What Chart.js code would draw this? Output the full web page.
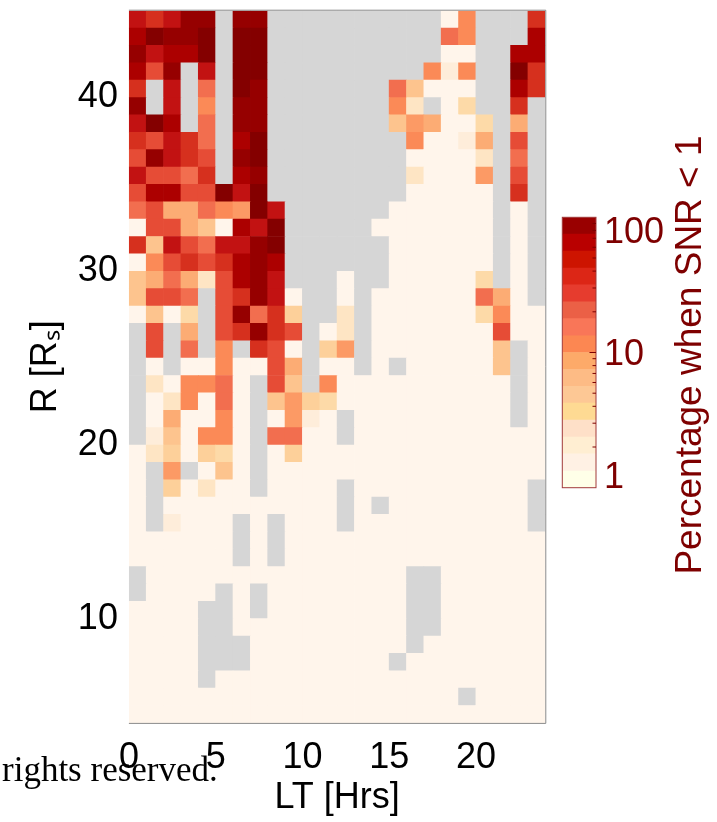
<!DOCTYPE html>
<html>
<head>
<meta charset="utf-8">
<title>Percentage when SNR &lt; 1</title>
<script src="https://cdn.jsdelivr.net/npm/chart.js@4.4.1/dist/chart.umd.min.js"></script>
<style>
  html, body { margin: 0; padding: 0; background: #fff; }
  #wrap { position: relative; width: 717px; height: 822px; overflow: hidden; }
  #wrap canvas { position: absolute; left: 0; top: 0; }
  #credit {
    position: absolute; left: 2px; top: 752px;
    font: 35px/1 "Liberation Serif", "Times New Roman", serif;
    color: #000; white-space: nowrap;
  }
</style>
</head>
<body>
<div id="wrap">
  <canvas id="map" width="717" height="822"></canvas>
  <canvas id="colorbar" width="717" height="822"></canvas>
  <div id="credit">rights reserved.</div>
</div>
<script>
// LT bins (left edge, hours) and R bins (lower edge, R_s, top row first)
const ltBins = [0, 1, 2, 3, 4, 5, 6, 7, 8, 9, 10, 11, 12, 13, 14, 15, 16, 17, 18, 19, 20, 21, 22, 23];
const rBins = [44, 43, 42, 41, 40, 39, 38, 37, 36, 35, 34, 33, 32, 31, 30, 29, 28, 27, 26, 25, 24,
               23, 22, 21, 20, 19, 18, 17, 16, 15, 14, 13, 12, 11, 10, 9, 8, 7, 6, 5, 4];
const xTickValues = [0, 5, 10, 15, 20];
const yTickValues = [10, 20, 30, 40];

// Percentage level per cell: one string per R bin, one character per LT bin.
// '.' no data, '0' below 1 %, '1'..'f' rising percentage (f = highest)
const snrRows = [
  'cbcee.ee..........08...b',
  'dfeef.ff..........98...d',
  'ecddf.ff..........00..dd',
  'dae.c.ff.........818..fb',
  'b.c.9.fe.......95000..db',
  'e.c.8.ee.......82.03..b.',
  'cfd.9.ee.......576003.6.',
  'bacb9.df........80016.a.',
  'aecba.ef........00002.9.',
  'caa9b.de........20007.a.',
  'addaafcf........00000.b.',
  '9a66987fc......000000.0.',
  '0aa650dcf.....0000000.0.',
  'b5ca9ccef......000000.0.',
  '08ababded......000000.0.',
  '56962adec...0..000003.0.',
  '5aa9.abec0..0.000000960.',
  '0503.ae9b4..2.0000003800',
  '.a.6.abeba.02.0000000a00',
  '.a.9.8.ba0.47.00000005.0',
  '.0.00800a6.00.0.000005.0',
  '.208890.a5.80000000000.0',
  '.028090.57430000000000.0',
  '.060080.0710.000000000.0',
  '.150880.9900.00000000000',
  '0240430.0400000000000000',
  '0.7.050.0000000000000000',
  '0.40200.0000.0000000000.',
  '0.0000000000.0.00000000.',
  '0.1000.0.000.0000000000.',
  '000000.0.000000000000000',
  '000000.0.000000000000000',
  '.000000000000000..000000',
  '.0000.0.00000000..000000',
  '0000..0.00000000..000000',
  '0000..0000000000..000000',
  '0000...000000000.0000000',
  '0000...00000000.00000000',
  '0000.0000000000000000000',
  '0000000000000000000.0000',
  '000000000000000000000000'
];

const levelColors = {
  '0': '#FFF5EB', '1': '#FEEDDA', '2': '#FEE5C4', '3': '#FDDAA8',
  '4': '#FDD09A', '5': '#FDC48E', '6': '#FCAC74', '7': '#FC9A65',
  '8': '#FB8A57', '9': '#F26E4F', 'a': '#E64C36', 'b': '#D6301E',
  'c': '#C21212', 'd': '#AC0000', 'e': '#960000', 'f': '#840000'
};
const noDataColor = '#D6D6D6';

// colour bar: band edges (%) and band colours, bottom to top
const cbEdges = [1, 1.33, 1.78, 2.37, 3.16, 4.22, 5.62, 7.5, 10, 13.3, 17.8, 23.7, 31.6, 42.2, 56.2, 75, 100];
const cbColors = ['#FFFFE8', '#FFF1E4', '#FFEED2', '#FEE0C8', '#FEDA93', '#FDC895', '#FDBB85', '#FDAA69',
                  '#FC8752', '#F97658', '#EB6046', '#E63C2E', '#DC2616', '#CD1400', '#B90000', '#990000'];
const cbLabels = [1, 10, 100];
const cbMinorTicks = [2, 3, 4, 5, 6, 7, 8, 9, 20, 30, 40, 50, 60, 70, 80, 90];

const FONT = "'Liberation Sans', Arial, Helvetica, sans-serif";
const DARK_RED = '#7E0000';

Chart.defaults.font.family = FONT;
Chart.defaults.color = '#000';

// one floating bar per cell
const cells = [];
snrRows.forEach((row, j) => {
  row.split('').forEach((code, i) => {
    cells.push({ x: ltBins[i] + 0.5, y: [rBins[j], rBins[j] + 1], code: code });
  });
});

// axes box: top, right and bottom lines
const frameLines = {
  id: 'frameLines',
  afterDatasetsDraw(chart) {
    const { ctx, chartArea: a } = chart;
    ctx.save();
    ctx.strokeStyle = '#8a8a8a';
    ctx.lineWidth = 1;
    ctx.beginPath();
    ctx.moveTo(a.left, a.top - 0.5);
    ctx.lineTo(a.right + 0.5, a.top - 0.5);
    ctx.lineTo(a.right + 0.5, a.bottom + 0.5);
    ctx.lineTo(a.left, a.bottom + 0.5);
    ctx.stroke();
    ctx.restore();
  }
};

new Chart(document.getElementById('map'), {
  type: 'bar',
  data: {
    datasets: [{
      data: cells,
      backgroundColor: cells.map(c => c.code === '.' ? noDataColor : levelColors[c.code]),
      borderWidth: 0,
      barPercentage: 1,
      categoryPercentage: 1,
      grouped: false
    }]
  },
  options: {
    responsive: false,
    animation: false,
    layout: { padding: { left: 0, top: 10.7, right: 171.7, bottom: 0 } },
    plugins: { legend: { display: false }, tooltip: { enabled: false } },
    scales: {
      x: {
        type: 'linear',
        min: 0,
        max: 24,
        offset: false,
        grid: { display: false, offset: false, drawTicks: false },
        border: { display: false },
        afterBuildTicks: (scale) => { scale.ticks = xTickValues.map(v => ({ value: v })); },
        afterFit: (scale) => {
          scale.height = 99.1;
          scale.paddingLeft = 0;
          scale.paddingRight = 0;
        },
        ticks: { font: { size: 36 }, padding: 14, maxRotation: 0, minRotation: 0, autoSkip: false },
        title: { display: true, text: 'LT [Hrs]', font: { size: 36 }, padding: { top: 0, bottom: 2.6 } }
      },
      y: {
        type: 'linear',
        min: 4,
        max: 45,
        grid: { display: false, drawTicks: false },
        border: { display: false },
        afterBuildTicks: (scale) => { scale.ticks = yTickValues.map(v => ({ value: v })); },
        afterFit: (scale) => {
          // labels sit well inside the axis, no extra room needed above or below
          scale.width = 128.9;
          scale.paddingTop = 0;
          scale.paddingBottom = 0;
        },
        ticks: { font: { size: 36 }, padding: 11, autoSkip: false },
        title: { display: true, text: 'R [R\u209B]', font: { size: 36 }, padding: { top: 24.6, bottom: 0 } }
      }
    }
  },
  plugins: [frameLines]
});

// colour bar frame, ticks, labels and title
const colorbarDecor = {
  id: 'colorbarDecor',
  afterDraw(chart) {
    const { ctx, chartArea: a } = chart;
    const y = chart.scales.y;
    ctx.save();
    ctx.strokeStyle = '#A23A3A';
    ctx.lineWidth = 1;
    ctx.strokeRect(a.left, a.top, a.right - a.left, a.bottom - a.top);

    ctx.strokeStyle = DARK_RED;
    ctx.beginPath();
    cbMinorTicks.forEach(v => {
      const p = y.getPixelForValue(v);
      ctx.moveTo(a.right, p);
      ctx.lineTo(a.right - 3.5, p);
    });
    const p10 = y.getPixelForValue(10);
    ctx.moveTo(a.right, p10);
    ctx.lineTo(a.right - 6.5, p10);
    ctx.stroke();

    ctx.fillStyle = DARK_RED;
    ctx.font = '36px ' + FONT;
    ctx.textAlign = 'left';
    ctx.textBaseline = 'alphabetic';
    const capH = 0.716 * 36;
    cbLabels.forEach(v => {
      const p = y.getPixelForValue(v);
      const base = Math.min(Math.max(p + capH / 2, a.top + capH), a.bottom);
      ctx.fillText(String(v), a.right + 8, base);
    });

    ctx.translate(690.5, 355);
    ctx.rotate(-Math.PI / 2);
    ctx.font = '37px ' + FONT;
    ctx.textAlign = 'center';
    ctx.textBaseline = 'middle';
    ctx.fillText('Percentage when SNR < 1', 0, 0);
    ctx.restore();
  }
};

new Chart(document.getElementById('colorbar'), {
  type: 'bar',
  data: {
    labels: [''],
    datasets: cbColors.map((color, k) => ({
      data: [[cbEdges[k], cbEdges[k + 1]]],
      backgroundColor: color,
      borderWidth: 0,
      barPercentage: 1,
      categoryPercentage: 1,
      grouped: false
    }))
  },
  options: {
    responsive: false,
    animation: false,
    layout: { padding: { left: 562.3, top: 217.3, right: 121, bottom: 334.3 } },
    plugins: { legend: { display: false }, tooltip: { enabled: false } },
    scales: {
      x: { display: false },
      y: { type: 'logarithmic', min: 1, max: 100, display: false }
    }
  },
  plugins: [colorbarDecor]
});
</script>
</body>
</html>
